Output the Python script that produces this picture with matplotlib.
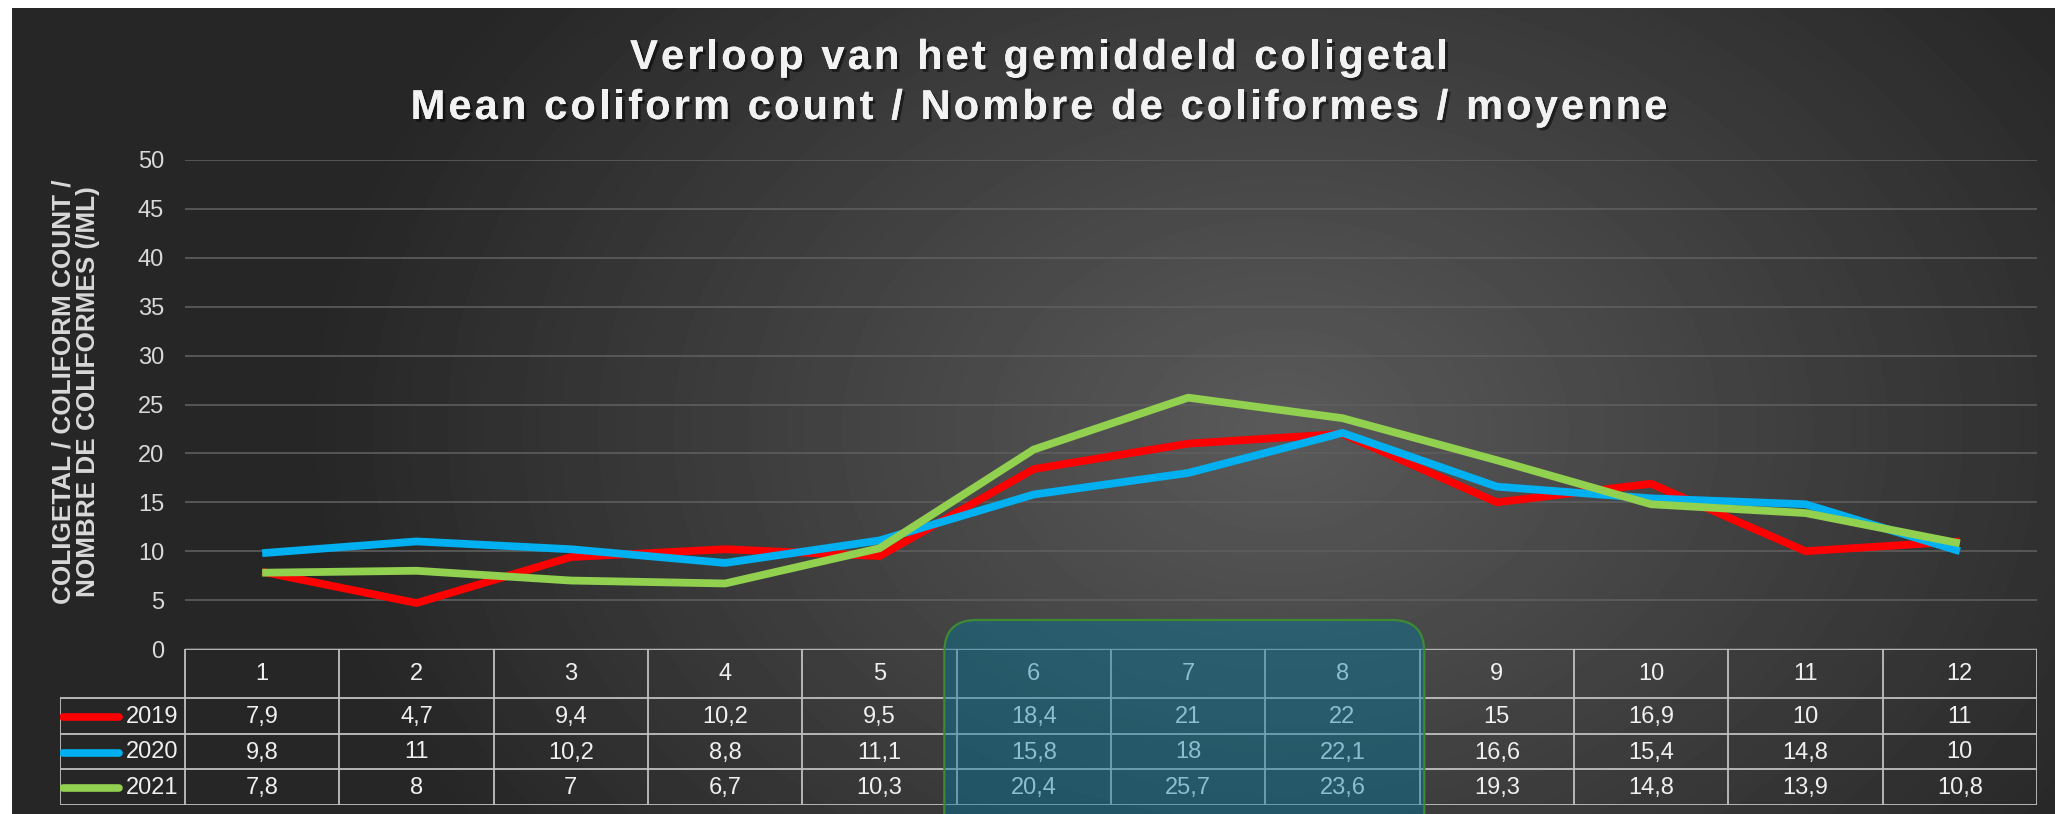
import numpy as np
import matplotlib
matplotlib.use('Agg')
import matplotlib.pyplot as plt
from matplotlib import font_manager
from matplotlib.font_manager import FontProperties, findfont, get_font
from matplotlib.patches import FancyBboxPatch
from matplotlib.transforms import IdentityTransform
import matplotlib.patheffects as pe

# data
months = list(range(1, 13))
years = ['2019', '2020', '2021']
v2019 = [7.9, 4.7, 9.4, 10.2, 9.5, 18.4, 21, 22, 15, 16.9, 10, 11]
v2020 = [9.8, 11, 10.2, 8.8, 11.1, 15.8, 18, 22.1, 16.6, 15.4, 14.8, 10]
v2021 = [7.8, 8, 7, 6.7, 10.3, 20.4, 25.7, 23.6, 19.3, 14.8, 13.9, 10.8]
series = [v2019, v2020, v2021]
colors = ['#FF0000', '#00B0F0', '#92D050']
highlight = [6, 8]  # first and last highlighted month
title1 = 'Verloop van het gemiddeld coligetal'
title2 = 'Mean coliform count / Nombre de coliformes / moyenne'
ylabel = 'COLIGETAL / COLIFORM COUNT /\nNOMBRE DE COLIFORMES (/ML)'

W, H = 2055, 814
names = {f.name for f in font_manager.fontManager.ttflist}
narrow = 'Liberation Sans Narrow' if 'Liberation Sans Narrow' in names else 'Liberation Sans'
plt.rcParams['font.family'] = ['Liberation Sans', 'DejaVu Sans']

fig = plt.figure(figsize=(W / 100, H / 100), dpi=100, facecolor='white')

# dark radial background, white strip on top and left
bg = fig.add_axes([12 / W, 0, 1 - 12 / W, 1 - 8 / H], zorder=0)
yy, xx = np.mgrid[8:H, 12:W]
r = np.sqrt(((xx - 1280) / 980.) ** 2 + ((yy - 430) / 720.) ** 2)
shade = 0x5a + (0x26 - 0x5a) * np.clip(r, 0, 1)
bg.imshow(shade, cmap='gray', vmin=0, vmax=255, aspect='auto', interpolation='bilinear')
bg.axis('off')

# main chart
ax = fig.add_axes([185 / W, 1 - 649 / H, (2037 - 185) / W, (649 - 160) / H], zorder=2)
ax.set_facecolor('none')
for s, c in zip(series, colors):
    ax.plot(months, s, color=c, lw=5.6, solid_joinstyle='round', solid_capstyle='butt', zorder=3)
ax.set_xlim(0.5, 12.5)
ax.set_ylim(0, 50)
ax.set_yticks(range(0, 51, 5))
ax.set_xticks([])
ax.yaxis.grid(True, color='#5e5e5e', lw=1.2)
ax.set_axisbelow(True)
ax.tick_params(axis='y', length=0, pad=15, labelsize=17, labelcolor='#D9D9D9')
for sp in ax.spines.values():
    sp.set_visible(False)

# data table under the chart
tab = fig.add_axes([60 / W, 1 - 805 / H, (2037 - 60) / W, (805 - 649) / H], zorder=1)
tab.set_facecolor('none')
left = 0.5 - 125 / ((2037 - 185) / 12)
tab.set_xlim(left, 12.5)
rows = [0, 49, 85, 120, 156]
tab.set_ylim(rows[-1], rows[0])
tab.axis('off')
lc = '#C0C0C0'
tab.hlines(rows[0], 0.5, 12.5, color=lc, lw=1.3)
tab.hlines(rows[1:], left, 12.5, color=lc, lw=1.3)
tab.vlines([m + 0.5 for m in [0] + months], rows[0], rows[-1], color=lc, lw=1.3)
tab.vlines(left, rows[1], rows[-1], color=lc, lw=1.3)
for m in months:
    tab.text(m, (rows[0] + rows[1]) / 2 + 1, str(m), ha='center', va='center',
             fontsize=17, color='#F0F0F0', family=narrow)
for i, (s, c, yr) in enumerate(zip(series, colors, years)):
    yc = (rows[i + 1] + rows[i + 2]) / 2 + 1
    tab.plot([left + 0.02, 0.07], [yc, yc], color=c, lw=5.5, solid_capstyle='round')
    tab.text(0.46, yc, yr, ha='right', va='center', fontsize=17, color='#F0F0F0', family=narrow)
    for m, v in zip(months, s):
        tab.text(m, yc, ('%g' % v).replace('.', ','), ha='center', va='center',
                 fontsize=17, color='#F0F0F0', family=narrow)

# highlight box over months 6-8
fig.canvas.draw()
x0 = ax.transData.transform((highlight[0] - 0.58, 0))[0]
x1 = ax.transData.transform((highlight[1] + 0.53, 0))[0]
y_top = H - 620
box = FancyBboxPatch((x0, -40), x1 - x0, y_top + 40,
                     boxstyle='round,pad=0,rounding_size=32',
                     transform=IdentityTransform(), facecolor='#007AA0', alpha=0.42,
                     edgecolor='none', zorder=5)
fig.add_artist(box)
edge = FancyBboxPatch((x0, -40), x1 - x0, y_top + 40,
                      boxstyle='round,pad=0,rounding_size=32',
                      transform=IdentityTransform(), facecolor='none',
                      edgecolor='#3E8A34', lw=1.6, zorder=6)
fig.add_artist(edge)


# titles with letter spacing (drawn glyph by glyph)
def spaced_title(txt, xc, yc, size, track):
    prop = FontProperties(family='Liberation Sans', weight='bold', size=size)
    font = get_font(findfont(prop))
    font.set_size(size, 100)
    adv = [font.load_char(ord(ch)).linearHoriAdvance / 65536. for ch in txt]
    total = sum(adv) + track * (len(txt) - 1)
    x = xc - total / 2
    shadow = [pe.withSimplePatchShadow(offset=(2, -2), shadow_rgbFace='black', alpha=0.5),
              pe.Normal()]
    for ch, a in zip(txt, adv):
        if ch != ' ':
            fig.text(x / W, 1 - yc / H, ch, ha='left', va='center', fontproperties=prop,
                     color='#F2F2F2', path_effects=shadow)
        x += a + track


spaced_title(title1, 1039, 58, 30, 3.1)
spaced_title(title2, 1039, 108, 30, 3.1)

fig.text(76 / W, 1 - 392 / H, ylabel, rotation=90, ha='center', va='center',
         fontsize=18.8, fontweight='bold', color='#D9D9D9', linespacing=1.05)

fig.savefig('out.png', dpi=100, facecolor=fig.get_facecolor())
